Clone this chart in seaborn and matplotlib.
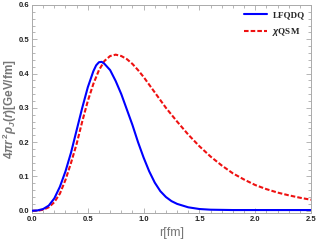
import matplotlib
matplotlib.use("Agg")
import matplotlib.pyplot as plt
import numpy as np
import pandas as pd
import seaborn as sns
from matplotlib.ticker import MultipleLocator

# values
r_lfqdq = [0.0, 0.05, 0.1, 0.15, 0.2, 0.25, 0.3, 0.35, 0.4, 0.45, 0.5, 0.55, 0.575, 0.6,
           0.625, 0.65, 0.7, 0.75, 0.8, 0.85, 0.9, 0.95, 1.0, 1.05, 1.1, 1.15, 1.2, 1.25,
           1.3, 1.4, 1.5, 1.6, 1.8, 2.0, 2.5]
rho_lfqdq = [0.0, 0.001, 0.005, 0.015, 0.036, 0.07, 0.115, 0.17, 0.235, 0.30, 0.36, 0.407,
             0.424, 0.433, 0.434, 0.428, 0.41, 0.378, 0.34, 0.295, 0.25, 0.20, 0.155, 0.115,
             0.082, 0.057, 0.04, 0.028, 0.02, 0.01, 0.005, 0.003, 0.002, 0.002, 0.002]

r_xqsm = [0.0, 0.05, 0.1, 0.15, 0.2, 0.25, 0.3, 0.35, 0.4, 0.45, 0.5, 0.55, 0.6, 0.65, 0.7,
          0.75, 0.8, 0.85, 0.9, 0.95, 1.0, 1.1, 1.2, 1.3, 1.4, 1.5, 1.6, 1.7, 1.8, 1.9,
          2.0, 2.1, 2.2, 2.3, 2.4, 2.5]
rho_xqsm = [0.0, 0.0, 0.003, 0.01, 0.025, 0.05, 0.09, 0.14, 0.195, 0.26, 0.32, 0.37, 0.41,
            0.437, 0.451, 0.455, 0.451, 0.442, 0.428, 0.41, 0.39, 0.345, 0.30, 0.26, 0.222,
            0.188, 0.158, 0.132, 0.109, 0.091, 0.075, 0.063, 0.053, 0.045, 0.038, 0.032]

labels = ["LFQDQ", r"$\chi$QSM"]

sns.set_style("ticks")
plt.rcParams["font.family"] = ["Liberation Sans", "DejaVu Sans"]
plt.rcParams["mathtext.fontset"] = "custom"
plt.rcParams["mathtext.it"] = "Liberation Sans:italic:bold"
plt.rcParams["mathtext.rm"] = "Liberation Sans:bold"

fig = plt.figure(figsize=(3.17, 2.46), dpi=100)
ax = fig.add_axes([0.101, 0.135, 0.880, 0.845])

df1 = pd.DataFrame({"r": r_lfqdq, "rho": rho_lfqdq})
df2 = pd.DataFrame({"r": r_xqsm, "rho": rho_xqsm})
sns.lineplot(data=df2, x="r", y="rho", ax=ax, color="#ee1111", lw=1.5,
             linestyle=(0, (2.2, 1.0)), label=labels[1], zorder=2)
sns.lineplot(data=df1, x="r", y="rho", ax=ax, color="#0000ff", lw=1.5,
             label=labels[0], zorder=3)

ax.set_xlim(0, 2.5)
ax.set_ylim(-0.006, 0.6)
ax.xaxis.set_major_locator(MultipleLocator(0.5))
ax.xaxis.set_minor_locator(MultipleLocator(0.1))
ax.yaxis.set_major_locator(MultipleLocator(0.1))
ax.yaxis.set_minor_locator(MultipleLocator(0.02))
ax.xaxis.set_major_formatter(matplotlib.ticker.FormatStrFormatter("%.1f"))
ax.yaxis.set_major_formatter(matplotlib.ticker.FormatStrFormatter("%.1f"))

ax.tick_params(which="both", direction="in", top=True, right=True, color="#aaaaaa",
               width=0.6, labelsize=5.5, labelcolor="#222222", pad=2)
ax.tick_params(which="major", length=3.5)
ax.tick_params(which="minor", length=2)
for lab in ax.get_xticklabels() + ax.get_yticklabels():
    lab.set_fontweight("bold")
for s in ax.spines.values():
    s.set_color("#aaaaaa")
    s.set_linewidth(0.7)

ax.set_xlabel("r[fm]", fontsize=9, color="#777777", labelpad=3)
ax.set_ylabel(r"$4\pi r^2\rho_J(r)$[GeV/fm]", fontsize=8.5, color="#777777",
              fontweight="bold")
ax.yaxis.set_label_coords(-0.048, 0.5)

# legend: reorder so LFQDQ is first
h, l = ax.get_legend_handles_labels()
leg = ax.legend(h[::-1], l[::-1], loc="upper right", frameon=False,
                prop={"family": "Liberation Serif", "size": 6.5, "weight": "bold"},
                handlelength=2.6, handletextpad=0.6, labelspacing=0.7,
                borderaxespad=0.3)

fig.savefig("out.png", dpi=100)
